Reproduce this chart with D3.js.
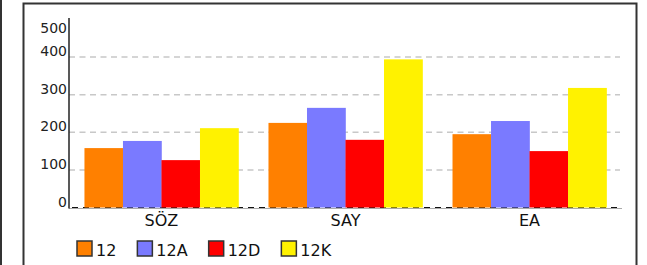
<!DOCTYPE html>
<html><head><meta charset="utf-8">
<script src="https://cdn.jsdelivr.net/npm/d3@7/dist/d3.min.js"></script>
<style>body{margin:0;background:#fff}svg{display:block;font-family:"DejaVu Sans",sans-serif}</style>
</head><body><svg id="c" width="647" height="265"></svg>
<script>
const categories = ["SÖZ", "SAY", "EA"];
const seriesNames = ["12", "12A", "12D", "12K"];
const seriesColors = ["#ff8000", "#7a7aff", "#ff0000", "#fff200"];
const s12  = [158, 225, 195];
const s12A = [177, 265, 230];
const s12D = [126, 180, 150];
const s12K = [211, 394, 318];
const yTicks = [0, 100, 200, 300, 400, 500];
const gridTicks = [100, 200, 300, 400];
const seriesValues = [s12, s12A, s12D, s12K];

const svg = d3.select("#c");
// frame
svg.append("line").attr("x1",1).attr("x2",1).attr("y1",0).attr("y2",265).attr("stroke","#333").attr("stroke-width",2);
svg.append("rect").attr("x",23.5).attr("y",3.5).attr("width",613).attr("height",320)
  .attr("fill","none").attr("stroke","#333").attr("stroke-width",2);

const x = d3.scaleBand().domain(categories).range([69, 622]).paddingInner(0.163).paddingOuter(0.084);
const xs = d3.scaleBand().domain(seriesNames).range([0, x.bandwidth()]);
const y = d3.scaleLinear().domain([0, 500]).range([207.5, 19.5]);

// gridlines
svg.append("g").selectAll("line").data(gridTicks).join("line")
  .attr("x1",69).attr("x2",620).attr("y1",d=>y(d)).attr("y2",d=>y(d))
  .attr("stroke","#c8c8c8").attr("stroke-width",1.5).attr("stroke-dasharray","6,4.5");
// baseline
svg.append("line").attr("x1",69).attr("x2",622).attr("y1",y(0)+1).attr("y2",y(0)+1)
  .attr("stroke","#aaa").attr("stroke-width",1.2);
svg.append("line").attr("x1",72).attr("x2",622).attr("y1",y(0)).attr("y2",y(0))
  .attr("stroke","#111").attr("stroke-width",1.2).attr("stroke-dasharray","6,5");

// bars
const rows = [];
categories.forEach((c,i)=>seriesNames.forEach((s,j)=>rows.push({c,s,j,v:seriesValues[j][i]})));
svg.append("g").selectAll("rect").data(rows).join("rect")
  .attr("x",d=>x(d.c)+xs(d.s)).attr("width",xs.bandwidth()+0.3)
  .attr("y",d=>y(d.v)).attr("height",d=>y(0)-y(d.v))
  .attr("fill",d=>seriesColors[d.j]);

// y axis
svg.append("line").attr("x1",69).attr("x2",69).attr("y1",18).attr("y2",208.5)
  .attr("stroke","#222").attr("stroke-width",1.5);
svg.append("g").selectAll("text").data(yTicks).join("text")
  .attr("x",67).attr("y",d=>Math.max(y(d)-1, 33)).attr("text-anchor","end")
  .attr("font-size",14).attr("fill","#222").text(d=>d);

// category labels
svg.append("g").selectAll("text").data(categories).join("text")
  .attr("x",d=>x(d)+x.bandwidth()/2).attr("y",226).attr("text-anchor","middle")
  .attr("font-size",16).attr("fill","#111").text(d=>d);

// legend
const lg = svg.append("g");
let lx = 77;
seriesNames.forEach((s,j)=>{
  lg.append("rect").attr("x",lx).attr("y",241).attr("width",15).attr("height",15)
    .attr("fill",seriesColors[j]).attr("stroke","#333").attr("stroke-width",1.5);
  const t = lg.append("text").attr("x",lx+19).attr("y",255.5).attr("font-size",16).attr("fill","#111").text(s);
  lx = lx + 19 + t.node().getComputedTextLength() + 21;
});
</script></body></html>
